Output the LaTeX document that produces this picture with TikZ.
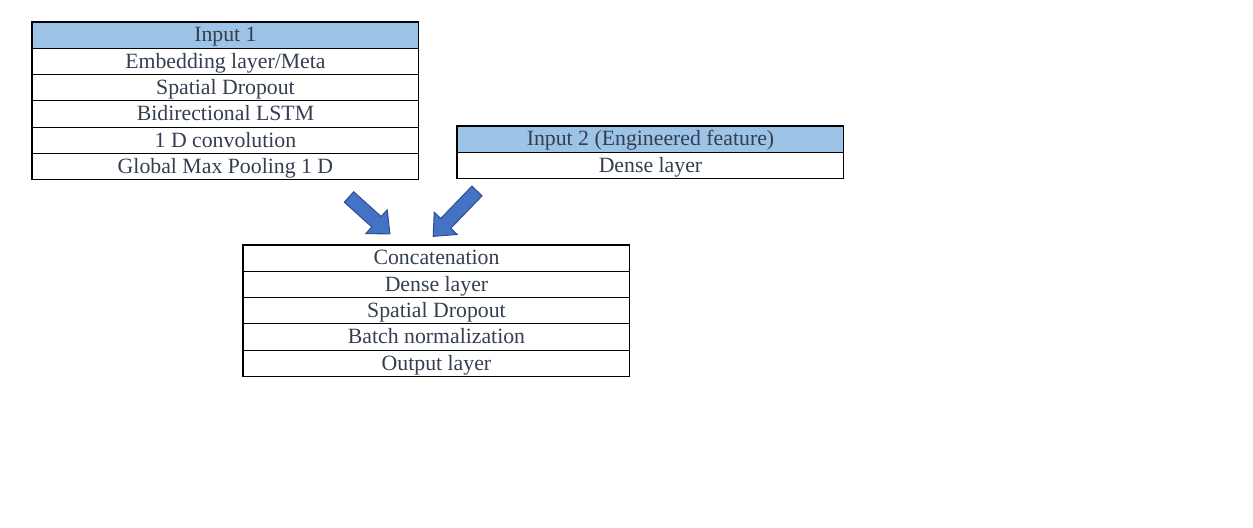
\documentclass[tikz,border=0pt]{standalone}
\usepackage{fontspec}
\setmainfont{Liberation Serif}
\usetikzlibrary{positioning}
\definecolor{headblue}{RGB}{157, 195, 230}
\definecolor{slate}{RGB}{51, 63, 80}
\definecolor{arrowblue}{RGB}{68, 114, 196}
\definecolor{arrowedge}{RGB}{47, 82, 143}

\begin{document}
\begin{tikzpicture}[
        x=0.02cm, y=-0.02cm,
        node distance = 0pt,
        layer/.style = {draw, black, line width=0.6pt, rectangle, outer sep=0pt, minimum width=7.74cm, minimum height=0.526cm, inner sep=0pt, text height=0.87em, text depth=0.1em, align=center, text=slate, font=\fontsize{12.4}{14}\selectfont},
        head/.style = {layer, fill=headblue},
        blockarrow/.style = {fill=arrowblue, draw=arrowedge, line width=0.6pt, line join=miter}
    ]
        \useasboundingbox (0,0) rectangle (1253,527);

        % Input 1 branch
        \node [head, anchor=north west] (in1) at (32,22) {Input 1};
        \node [layer, below=of in1] (emb) {Embedding layer/Meta};
        \node [layer, below=of emb] (sdrop1) {Spatial Dropout};
        \node [layer, below=of sdrop1] (bilstm) {Bidirectional LSTM};
        \node [layer, below=of bilstm] (conv) {1 D convolution};
        \node [layer, below=of conv] (gmp) {Global Max Pooling 1 D};

        % Input 2 branch
        \node [head, anchor=north west] (in2) at (457,126) {Input 2 (Engineered feature)};
        \node [layer, below=of in2] (dense1) {Dense layer};

        % Merged part
        \node [layer, anchor=north west] (concat) at (243,245) {Concatenation};
        \node [layer, below=of concat] (dense2) {Dense layer};
        \node [layer, below=of dense2] (sdrop2) {Spatial Dropout};
        \node [layer, below=of sdrop2] (bnorm) {Batch normalization};
        \node [layer, below=of bnorm] (out) {Output layer};

        % Block arrows
        \begin{scope}[shift={(349,197)}, rotate=-42]
            \draw [blockarrow] (0,-7) -- (37,-7) -- (37,-16) -- (55,0) -- (37,16) -- (37,7) -- (0,7) -- cycle;
        \end{scope}
        \begin{scope}[shift={(477,191)}, rotate=-134]
            \draw [blockarrow] (0,-7) -- (45,-7) -- (45,-16) -- (63,0) -- (45,16) -- (45,7) -- (0,7) -- cycle;
        \end{scope}
    \end{tikzpicture}
\end{document}
